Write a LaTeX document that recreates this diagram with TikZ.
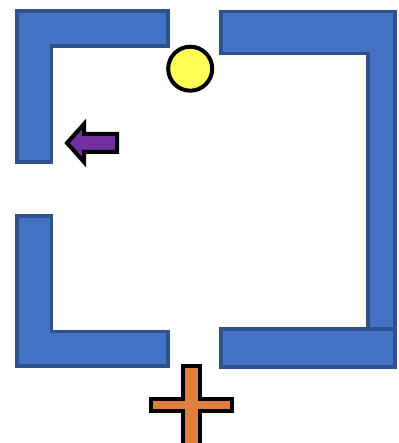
\documentclass[tikz,border=0pt]{standalone}
\usepackage{tikz}
\definecolor{wallfill}{HTML}{4472C4}
\definecolor{walledge}{HTML}{2F528F}
\definecolor{sunfill}{HTML}{FFFF55}
\definecolor{arrowfill}{HTML}{7030A0}
\definecolor{crossfill}{HTML}{E0803F}
\tikzset{
  wall/.style={fill=wallfill,draw=walledge,line width=3.5pt,line join=miter},
  token/.style={draw=black,line width=4pt,line join=miter}
}
\begin{document}
\begin{tikzpicture}[x=1pt,y=-1pt]
\useasboundingbox (0,0) rectangle (398,443);
\clip (0,0) rectangle (398,443);
% top-left wall
\draw[wall] (17,11.2) -- (168,11.2) -- (168,46) -- (51.3,46) -- (51.3,162) -- (17,162) -- cycle;
% bottom-left wall
\draw[wall] (17,216) -- (51.3,216) -- (51.3,331.3) -- (168,331.3) -- (168,366) -- (17,366) -- cycle;
% bottom-right wall
\draw[wall] (221,329) rectangle (395,367);
% top-right wall
\draw[wall] (221,11.5) -- (395,11.5) -- (395,329) -- (368,329) -- (368,53.3) -- (221,53.3) -- cycle;
% yellow ball
\draw[token,fill=sunfill] (190.2,68.7) circle (22);
% purple arrow
\draw[token,fill=arrowfill] (67,143) -- (84,124) -- (84,134) -- (117,134) -- (117,152) -- (84,152) -- (84,162) -- cycle;
% orange cross
\draw[token,fill=crossfill] (183,366) -- (200,366) -- (200,399) -- (232,399) -- (232,411) -- (200,411) -- (200,455) -- (183,455) -- (183,411) -- (151,411) -- (151,399) -- (183,399) -- cycle;
\end{tikzpicture}
\end{document}
